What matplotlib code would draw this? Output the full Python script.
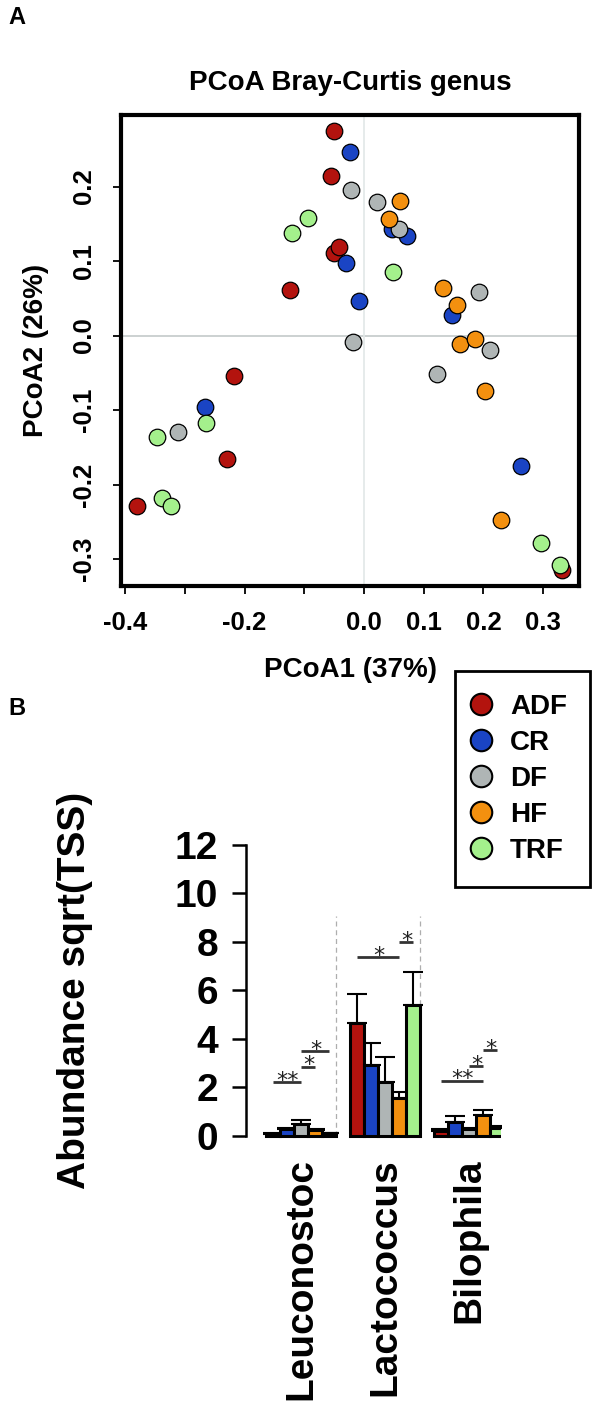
import matplotlib
matplotlib.use("Agg")
import matplotlib.pyplot as plt
from matplotlib.lines import Line2D
import numpy as np

plt.rcParams['font.family'] = ['Liberation Sans', 'DejaVu Sans']
plt.rcParams['font.weight'] = 'bold'

# ---------------- data ----------------
groups = ["ADF", "CR", "DF", "HF", "TRF"]
colors = ["#B3130E", "#1A44C4", "#AFB5B5", "#F3900F", "#A4F08C"]

# PCoA coordinates (PCoA1, PCoA2) per diet group
adf_x = [-0.050, -0.055, -0.050, -0.042, -0.124, -0.218, -0.230, -0.380, 0.332]
adf_y = [0.274, 0.214, 0.111, 0.119, 0.061, -0.054, -0.165, -0.228, -0.315]
cr_x = [-0.024, -0.030, -0.008, 0.046, 0.072, 0.147, 0.263, -0.266]
cr_y = [0.246, 0.097, 0.047, 0.143, 0.134, 0.027, -0.175, -0.096]
df_x = [-0.022, 0.022, 0.059, 0.193, -0.018, 0.211, 0.123, -0.311]
df_y = [0.196, 0.179, 0.143, 0.058, -0.008, -0.019, -0.051, -0.129]
hf_x = [0.060, 0.041, 0.132, 0.155, 0.160, 0.185, 0.202, 0.230]
hf_y = [0.180, 0.156, 0.064, 0.041, -0.011, -0.005, -0.074, -0.248]
trf_x = [-0.094, -0.121, 0.049, 0.297, 0.328, -0.265, -0.347, -0.338, -0.324]
trf_y = [0.158, 0.137, 0.086, -0.278, -0.308, -0.117, -0.136, -0.218, -0.228]
pcoa_x = [adf_x, cr_x, df_x, hf_x, trf_x]
pcoa_y = [adf_y, cr_y, df_y, hf_y, trf_y]

x_ticks = [-0.4, -0.3, -0.2, -0.1, 0.0, 0.1, 0.2, 0.3]
x_ticklabels = ["-0.4", "", "-0.2", "", "0.0", "0.1", "0.2", "0.3"]
y_ticks = [-0.3, -0.2, -0.1, 0.0, 0.1, 0.2]
y_ticklabels = ["-0.3", "-0.2", "-0.1", "0.0", "0.1", "0.2"]

# Abundance sqrt(TSS): means and upper error-bar ends, order ADF, CR, DF, HF, TRF
genera = ["Leuconostoc", "Lactococcus", "Bilophila"]
leuconostoc_mean = [0.08, 0.25, 0.48, 0.22, 0.10]
leuconostoc_top = [0.10, 0.32, 0.62, 0.26, 0.12]
lactococcus_mean = [4.66, 2.90, 2.22, 1.56, 5.40]
lactococcus_top = [5.86, 3.83, 3.24, 1.78, 6.76]
bilophila_mean = [0.20, 0.55, 0.25, 0.86, 0.33]
bilophila_top = [0.25, 0.80, 0.30, 1.05, 0.38]
means = [leuconostoc_mean, lactococcus_mean, bilophila_mean]
tops = [leuconostoc_top, lactococcus_top, bilophila_top]

# significance brackets: (genus index, group a, group b, height, label)
sig_genus = [0, 0, 0, 1, 1, 2, 2, 2]
sig_a = [0, 2, 2, 0, 3, 0, 2, 3]
sig_b = [2, 3, 4, 3, 4, 3, 3, 4]
sig_h = [2.22, 2.85, 3.50, 7.38, 8.00, 2.27, 2.88, 3.53]
sig_lab = ["**", "*", "*", "*", "*", "**", "*", "*"]

# ---------------- figure ----------------
W, H = 600, 1406
fig = plt.figure(figsize=(W / 100, H / 100), dpi=100)


def rect(l, t, r, b):
    return [l / W, 1 - b / H, (r - l) / W, (b - t) / H]


# ---- Panel A ----
axA = fig.add_axes(rect(121, 115, 579, 586))
axA.axhline(0, color="#C3C9C9", lw=1.2, zorder=1)
axA.axvline(0, color="#E2E8E8", lw=1.2, zorder=1)
for gx, gy, c in zip(pcoa_x, pcoa_y, colors):
    axA.scatter(gx, gy, s=142, c=c, edgecolors="black", linewidths=0.9, zorder=3)
axA.set_xlim(-0.407, 0.360)
axA.set_ylim(-0.336, 0.296)
for sp in axA.spines.values():
    sp.set_linewidth(3.0)
axA.set_xticks(x_ticks)
axA.set_xticklabels(x_ticklabels)
axA.set_yticks(y_ticks)
axA.set_yticklabels(y_ticklabels, rotation=90, va="center")
axA.tick_params(direction="out", length=6, width=1.3, pad=12, labelsize=18.5)
axA.set_title("PCoA Bray-Curtis genus", fontsize=20, fontweight="bold", pad=18)
axA.set_xlabel("PCoA1 (37%)", fontsize=20, fontweight="bold")
axA.xaxis.set_label_coords(0.5, (586 - 657) / 471)
axA.set_ylabel("PCoA2 (26%)", fontsize=20, fontweight="bold")
axA.yaxis.set_label_coords((49 - 121) / 458, 0.5)

fig.text(8 / W, 1 - 6 / H, "A", fontsize=17, fontweight="bold", va="top", ha="left")
fig.text(8 / W, 1 - 697 / H, "B", fontsize=17, fontweight="bold", va="top", ha="left")

# ---- Panel B ----
px_per_unit = (1135.5 - 845) / 12.0
ymin = -0.3
bottom_px = 1135.5 - ymin * px_per_unit
axB = fig.add_axes(rect(246, 845, 501, bottom_px))
axB.set_ylim(ymin, 12)
axB.set_xlim(-1.46, 16.75)
step = 6
n = len(groups)
for gi in range(len(genera) - 1):
    axB.vlines(gi * step + n, 0, 9.05, colors="#AEAEAE", linestyles=(0, (4, 3)),
               lw=0.9, zorder=0.5)
for i, (g, c) in enumerate(zip(groups, colors)):
    xs = np.arange(len(genera)) * step + i + 0.5
    hs = np.array([means[k][i] for k in range(len(genera))])
    ts = np.array([tops[k][i] for k in range(len(genera))])
    axB.errorbar(xs, hs, yerr=[np.zeros_like(hs), ts - hs], fmt="none", ecolor="black",
                 elinewidth=1.5, capsize=7.5, capthick=1.5, zorder=2)
    axB.bar(xs, hs, width=1.0, color=c, edgecolor="black", linewidth=2.2, zorder=3)

for gi, a, b, h, lab in zip(sig_genus, sig_a, sig_b, sig_h, sig_lab):
    x1 = gi * step + a + 0.5
    x2 = gi * step + b + 0.5
    axB.plot([x1, x2], [h, h], color="#333333", lw=2.0, solid_capstyle="butt", zorder=4)
    axB.text((x1 + x2) / 2, h + 0.05, lab, ha="center", va="center", fontsize=16,
             family=["DejaVu Sans"], fontweight="normal", color="#222222", zorder=4)

for s in ["top", "right", "bottom"]:
    axB.spines[s].set_visible(False)
axB.spines["left"].set_bounds(0, 12)
axB.spines["left"].set_linewidth(1.8)
axB.set_yticks(np.arange(0, 13, 2))
axB.tick_params(axis="y", length=10, width=1.8, pad=10, labelsize=28)
axB.set_xticks(np.arange(len(genera)) * step + n / 2)
axB.set_xticklabels(genera, rotation=90, va="top", ha="center")
axB.tick_params(axis="x", length=0, pad=11, labelsize=28)
axB.set_ylabel("Abundance sqrt(TSS)", fontsize=28, fontweight="bold")
axB.yaxis.set_label_coords((93 - 246) / 255, (bottom_px - 990) / (bottom_px - 845))

handles = [Line2D([], [], marker="o", ls="none", markersize=15.5, markerfacecolor=c,
                  markeredgecolor="black", markeredgewidth=1.5) for c in colors]
leg = fig.legend(handles, groups, loc="upper left",
                 bbox_to_anchor=(455 / W, 1 - 671 / H), bbox_transform=fig.transFigure,
                 borderaxespad=0, fontsize=20, frameon=True, fancybox=False,
                 edgecolor="black", framealpha=1, borderpad=0.83, labelspacing=0.36,
                 handlelength=0.2, handletextpad=0.95)
leg.get_frame().set_linewidth(2.0)
for t in leg.get_texts():
    t.set_fontweight("bold")

fig.savefig("out.png", dpi=100)
